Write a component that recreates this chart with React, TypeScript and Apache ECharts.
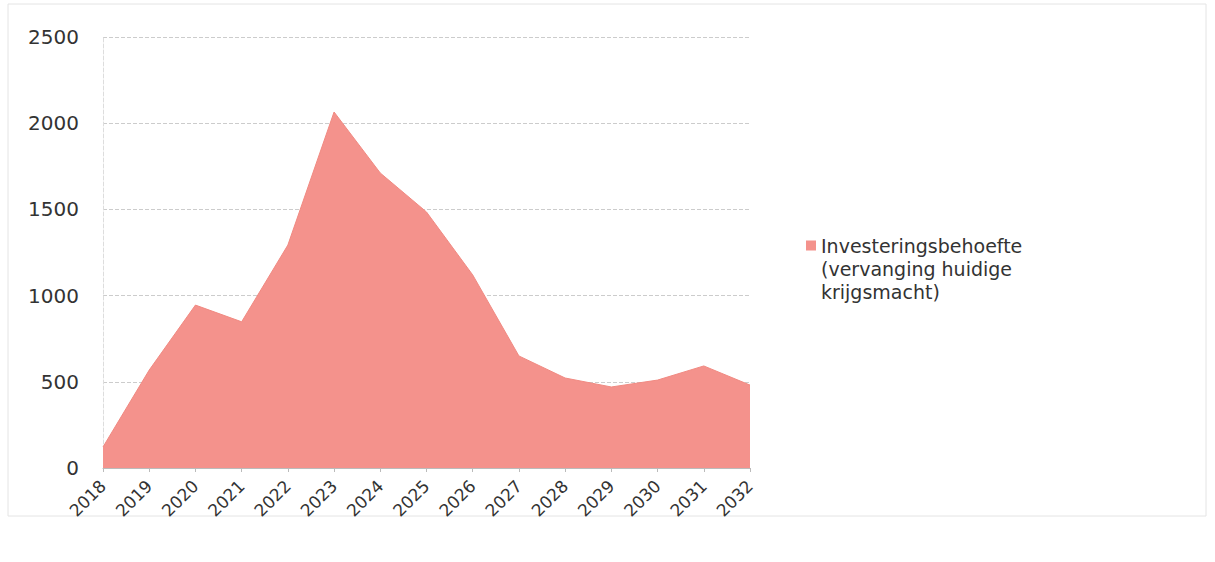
import React, { useEffect, useRef } from "react";
import * as echarts from "echarts";

const years = ["2018","2019","2020","2021","2022","2023","2024","2025","2026","2027","2028","2029","2030","2031","2032"];
const investment = [122, 568, 945, 848, 1293, 2065, 1711, 1485, 1120, 650, 522, 470, 510, 592, 481];
const seriesName = "Investeringsbehoefte\n(vervanging huidige\nkrijgsmacht)";

export default function App() {
  const ref = useRef<HTMLDivElement>(null);
  useEffect(() => {
    const chart = echarts.init(ref.current!, null, { renderer: "svg" });
    chart.setOption({
      animation: false,
      backgroundColor: "#ffffff",
      textStyle: { fontFamily: "DejaVu Sans" },
      grid: { left: 103, right: 465, top: 37, bottom: 94 },
      legend: {
        left: 801,
        top: 229,
        orient: "vertical",
        icon: "path://M0,0h10v10h-10z M0,55.9h0.1v0.1h-0.1z",
        itemWidth: 10,
        itemHeight: 56,
        itemGap: 4,
        data: [seriesName],
        textStyle: { fontSize: 19, color: "#333", lineHeight: 23 },
      },
      xAxis: {
        type: "category",
        data: years,
        boundaryGap: false,
        axisLine: { lineStyle: { color: "#bbb" } },
        axisTick: { show: true, length: 4, lineStyle: { color: "#bbb" } },
        axisLabel: { rotate: 45, fontSize: 17, color: "#333", margin: 15 },
      },
      yAxis: {
        type: "value",
        min: 0,
        max: 2500,
        interval: 500,
        axisLine: { show: true, lineStyle: { color: "#ddd", type: "dashed" } },
        axisTick: { show: false },
        axisLabel: { fontSize: 20, color: "#333", margin: 24, formatter: (v: number) => String(v) },
        splitLine: { lineStyle: { color: "#ccc", type: "dashed", width: 1 } },
      },
      graphic: [
        {
          type: "rect",
          shape: { x: 8, y: 4, width: 1198, height: 512 },
          style: { fill: "none", stroke: "#e4e4e4", lineWidth: 1 },
        },
      ],
      series: [
        {
          name: seriesName,
          type: "line",
          data: investment,
          symbol: "none",
          lineStyle: { width: 1, color: "#F08A82" },
          itemStyle: { color: "#F4928C" },
          areaStyle: { color: "#F4928C", opacity: 1 },
        },
      ],
    });
    return () => chart.dispose();
  }, []);
  return <div ref={ref} style={{ position: "fixed", left: 0, top: 0, width: 1215, height: 562 }} />;
}
